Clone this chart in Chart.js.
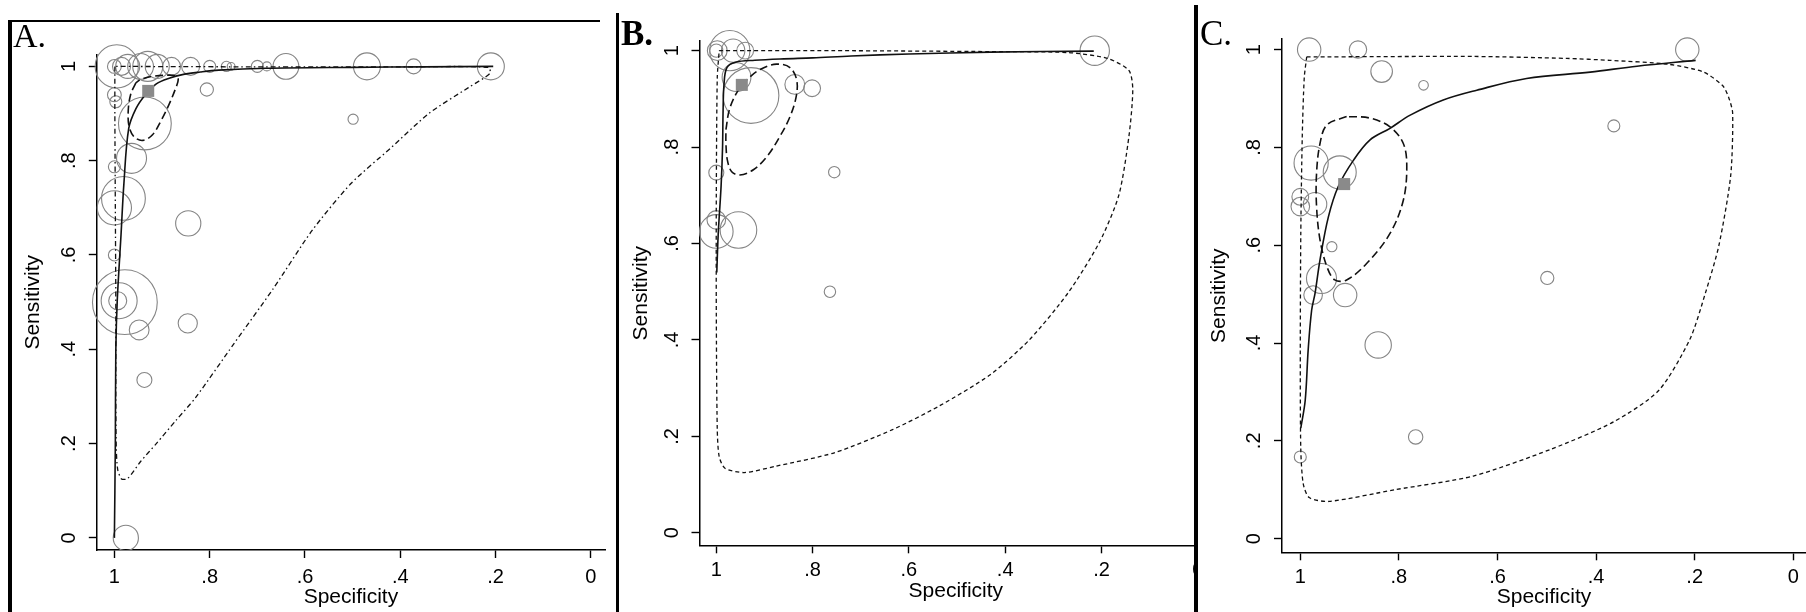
<!DOCTYPE html>
<html>
<head>
<meta charset="utf-8">
<title>SROC plots</title>
<script src="https://cdn.jsdelivr.net/npm/chart.js@4/dist/chart.umd.min.js"></script>
<style>
  html, body { margin: 0; padding: 0; background: #fff; }
  body { position: relative; width: 1806px; height: 612px; overflow: hidden; }
  canvas { position: absolute; top: 0; }
  .rule { position: absolute; background: #000; }
  .tag { position: absolute; font-family: "Liberation Serif", "Times New Roman", serif; line-height: 1; color: #000; white-space: nowrap; }
</style>
</head>
<body>
<canvas id="panelA" width="612" height="612" style="left:0"></canvas>
<canvas id="panelB" width="625" height="612" style="left:600px"></canvas>
<div style="position:absolute;left:1194px;top:0;width:612px;height:612px;background:#fff"></div>
<canvas id="panelC" width="612" height="612" style="left:1194px"></canvas>

<div class="rule" style="left:8px;top:20px;width:592px;height:2px"></div>
<div class="rule" style="left:8px;top:20px;width:4px;height:592px"></div>
<div class="rule" style="left:616px;top:13px;width:3px;height:599px"></div>
<div class="rule" style="left:1194px;top:5px;width:4px;height:607px"></div>

<div class="tag" style="left:13px;top:19px;font-size:34px">A.</div>
<div class="tag" style="left:621px;top:16px;font-size:35px;font-weight:bold">B.</div>
<div class="tag" style="left:1200px;top:16px;font-size:35px">C.</div>

<script>
// ---- axis ticks ----
const TICK_VALUES = [0, 0.2, 0.4, 0.6, 0.8, 1];
const TICK_LABELS = ['0', '.2', '.4', '.6', '.8', '1'];

// ---- A ----
const studySpecA = [1.0, 0.995, 0.985, 0.972, 0.945, 0.93, 0.91, 0.88, 0.84, 0.80, 0.765, 0.755, 0.70, 0.68, 0.64, 0.47, 0.372, 0.21,
                    0.806, 1.0, 0.997, 0.936, 0.964, 1.0, 0.981, 1.0, 0.845, 1.0, 0.993, 0.99, 0.978, 0.948, 0.846, 0.937, 0.976, 0.499];
const studySensA = [1, 1, 1, 1, 1, 1, 1, 1, 1, 1, 1, 1, 1, 1, 1, 1, 1, 1,
                    0.951, 0.94, 0.925, 0.879, 0.805, 0.787, 0.72, 0.70, 0.667, 0.60, 0.503, 0.503, 0.50, 0.441, 0.455, 0.335, 0.0, 0.888];
const studyWeightA = [2.3, 7.2, 3.0, 4.0, 4.3, 5.0, 4.0, 3.0, 3.0, 2.0, 1.7, 1.3, 2.0, 1.5, 4.3, 4.5, 2.5, 4.5,
                      2.2, 2.3, 2.0, 8.8, 5.0, 2.0, 7.3, 5.7, 4.2, 2.0, 3.0, 6.0, 10.8, 3.3, 3.2, 2.5, 4.2, 1.7];
const summarySpecA = 0.929, summarySensA = 0.948;
const srocSpecA = [1.0, 0.998, 0.997, 0.994, 0.986, 0.98, 0.97, 0.955, 0.935, 0.912, 0.885, 0.855, 0.82, 0.781, 0.683, 0.5, 0.35, 0.205];
const srocSensA = [0.0, 0.2, 0.396, 0.503, 0.644, 0.752, 0.868, 0.91, 0.94, 0.963, 0.975, 0.983, 0.988, 0.992, 0.996, 0.998, 0.999, 1.0];
const confSpecA = [0.955, 0.966, 0.971, 0.969, 0.958, 0.94, 0.92, 0.902, 0.885, 0.872, 0.866, 0.872, 0.895, 0.925, 0.945, 0.955];
const confSensA = [0.965, 0.94, 0.905, 0.872, 0.85, 0.843, 0.855, 0.885, 0.92, 0.952, 0.972, 0.98, 0.981, 0.978, 0.972, 0.965];
const predSpecA = [0.999, 0.999, 0.998, 0.997, 0.997, 0.996, 0.993, 0.985, 0.972, 0.945, 0.912, 0.87, 0.83, 0.749, 0.667, 0.585, 0.503, 0.421, 0.339, 0.257, 0.212, 0.215, 0.4, 0.7, 0.999];
const predSensA = [1.0, 0.9, 0.7, 0.5, 0.3, 0.19, 0.145, 0.125, 0.126, 0.162, 0.2, 0.25, 0.297, 0.412, 0.528, 0.652, 0.752, 0.826, 0.901, 0.955, 0.985, 0.998, 0.999, 0.999, 1.0];

// ---- B ----
const studySpecB = [1.0, 0.998, 0.965, 0.94, 0.972, 0.958, 0.928, 0.837, 0.801, 1.0, 0.755, 1.0, 1.0, 0.954, 0.764, 0.214];
const studySensB = [1.0, 1.0, 1.0, 1.0, 1.0, 0.945, 0.907, 0.93, 0.922, 0.747, 0.748, 0.649, 0.625, 0.628, 0.50, 1.0];
const studyWeightB = [2.2, 3.3, 3.9, 2.8, 6.7, 4.8, 9.3, 3.3, 2.8, 2.5, 1.9, 3.1, 5.6, 6.1, 1.9, 4.9];
const summarySpecB = 0.947, summarySensB = 0.929;
const srocSpecB = [0.999, 0.996, 0.99, 0.987, 0.986, 0.984, 0.978, 0.96, 0.92, 0.86, 0.80, 0.72, 0.6, 0.43, 0.216];
const srocSensB = [0.54, 0.62, 0.72, 0.80, 0.87, 0.93, 0.965, 0.976, 0.98, 0.983, 0.985, 0.989, 0.993, 0.997, 0.999];
const confSpecB = [0.98, 0.973, 0.958, 0.937, 0.909, 0.875, 0.847, 0.833, 0.834, 0.847, 0.868, 0.895, 0.923, 0.951, 0.968, 0.977, 0.98, 0.98];
const confSensB = [0.836, 0.877, 0.912, 0.939, 0.961, 0.972, 0.965, 0.939, 0.905, 0.863, 0.822, 0.78, 0.753, 0.742, 0.749, 0.773, 0.808, 0.836];
const predSpecB = [0.994, 0.755, 0.43, 0.27, 0.188, 0.143, 0.135, 0.143, 0.164, 0.204, 0.269, 0.35, 0.431, 0.537, 0.634, 0.755, 0.877, 0.942, 0.982, 0.994, 0.998, 1.0, 1.0, 0.998, 0.994];
const predSensB = [1.0, 1.0, 0.998, 0.996, 0.984, 0.959, 0.919, 0.822, 0.70, 0.603, 0.498, 0.40, 0.328, 0.263, 0.214, 0.166, 0.138, 0.125, 0.134, 0.158, 0.214, 0.457, 0.70, 0.944, 1.0];

// ---- C ----
const studySpecC = [0.982, 0.883, 0.835, 0.75, 0.215, 0.364, 0.978, 0.92, 1.0, 1.0, 0.97, 0.936, 0.957, 0.974, 0.909, 0.842, 0.766, 1.0, 0.499];
const studySensC = [1.0, 1.0, 0.955, 0.927, 1.0, 0.844, 0.768, 0.749, 0.699, 0.679, 0.684, 0.597, 0.532, 0.498, 0.498, 0.396, 0.208, 0.167, 0.533];
const studyWeightC = [3.9, 2.9, 3.6, 1.6, 3.9, 2.0, 5.7, 5.5, 2.8, 3.1, 3.9, 1.7, 5.0, 3.1, 3.9, 4.4, 2.4, 2.0, 2.2];
const summarySpecC = 0.911, summarySensC = 0.725;
const srocSpecC = [0.999, 0.99, 0.984, 0.977, 0.97, 0.96, 0.943, 0.923, 0.892, 0.859, 0.818, 0.777, 0.71, 0.642, 0.541, 0.412, 0.317, 0.198];
const srocSensC = [0.226, 0.283, 0.386, 0.467, 0.502, 0.57, 0.658, 0.72, 0.774, 0.815, 0.839, 0.866, 0.897, 0.917, 0.941, 0.954, 0.966, 0.978];
const confSpecC = [0.906, 0.946, 0.96, 0.967, 0.967, 0.96, 0.946, 0.93, 0.906, 0.865, 0.818, 0.791, 0.784, 0.791, 0.818, 0.859, 0.906];
const confSensC = [0.863, 0.846, 0.808, 0.747, 0.679, 0.611, 0.556, 0.529, 0.529, 0.563, 0.624, 0.692, 0.761, 0.808, 0.842, 0.86, 0.863];
const predSpecC = [0.987, 0.649, 0.459, 0.372, 0.253, 0.182, 0.143, 0.131, 0.123, 0.127, 0.151, 0.178, 0.21, 0.273, 0.364, 0.491, 0.649, 0.808, 0.942, 0.982, 0.994, 0.999, 1.0, 0.999, 0.996, 0.992, 0.987];
const predSensC = [0.985, 0.986, 0.982, 0.978, 0.97, 0.954, 0.926, 0.902, 0.87, 0.742, 0.599, 0.503, 0.407, 0.303, 0.239, 0.183, 0.128, 0.1, 0.076, 0.084, 0.112, 0.183, 0.383, 0.622, 0.822, 0.942, 0.985];

// ---- drawing ----
const INK = '#111';
const STUDY_GREY = '#858585';
const RADIUS_PER_WEIGHT = 3;   // circle radius (px) per unit of study weight
const CANVAS_H = 612;

Chart.defaults.font.family = '"Liberation Sans", Arial, Helvetica, sans-serif';
Chart.defaults.color = '#000';

const toPoints = (xs, ys) => xs.map((x, i) => ({ x, y: ys[i] }));

function curve(xs, ys, dash, width, tension) {
  return {
    data: toPoints(xs, ys),
    showLine: true,
    pointRadius: 0,
    borderColor: INK,
    borderWidth: width,
    borderDash: dash,
    tension: tension,
    fill: false,
    clip: false
  };
}

function axisCommon() {
  return {
    type: 'linear',
    afterBuildTicks: s => { s.ticks = TICK_VALUES.map(v => ({ value: v })); },
    grid: { display: true, drawOnChartArea: false, drawTicks: true, tickLength: 8, tickWidth: 1.4, tickColor: '#000', color: '#000' },
    border: { display: true, color: '#000', width: 1.5 }
  };
}

function drawPanel(id, d, g) {
  new Chart(document.getElementById(id), {
    type: 'scatter',
    data: {
      datasets: [
        { data: toPoints([d.sumSpec], [d.sumSens]), pointStyle: 'rect', pointRadius: 8.5,
          pointBackgroundColor: '#8a8a8a', pointBorderColor: '#8a8a8a', pointBorderWidth: 0, clip: false },
        curve(d.srocSpec, d.srocSens, [], 1.6, 0.35),
        curve(d.confSpec, d.confSens, [8, 4], 1.6, 0.35),
        curve(d.predSpec, d.predSens, d.predDash, 1.3, 0.25),
        { data: toPoints(d.studySpec, d.studySens), pointStyle: 'circle',
          pointRadius: ctx => RADIUS_PER_WEIGHT * d.studyWeight[ctx.dataIndex],
          pointBackgroundColor: 'rgba(0,0,0,0)', pointBorderColor: STUDY_GREY, pointBorderWidth: 1.1, clip: false }
      ]
    },
    options: {
      responsive: false,
      animation: false,
      devicePixelRatio: 1,
      events: [],
      layout: {
        autoPadding: false,
        padding: {
          left: g.left - g.yW,
          top: g.top,
          right: g.canvasW - g.right,
          bottom: CANVAS_H - g.bottom - g.xH
        }
      },
      plugins: { legend: { display: false }, tooltip: { enabled: false } },
      scales: {
        x: Object.assign(axisCommon(), {
          position: 'bottom',
          reverse: true,
          min: g.xMin, max: g.xMax,
          afterFit: s => { s.height = g.xH; },
          ticks: { callback: (v, i) => TICK_LABELS[i], autoSkip: false, minRotation: 0, maxRotation: 0,
                   padding: g.xPad, font: { size: 20 }, color: '#000' },
          title: { display: true, text: 'Specificity', font: { size: 21 }, color: '#000', padding: 0 }
        }),
        y: Object.assign(axisCommon(), {
          position: 'left',
          min: g.yMin, max: g.yMax,
          afterFit: s => { s.width = g.yW; },
          ticks: { callback: (v, i) => TICK_LABELS[i], autoSkip: false, minRotation: 90, maxRotation: 90,
                   crossAlign: 'center', padding: g.yPad, font: { size: 20 }, color: '#000' },
          title: { display: true, text: 'Sensitivity', font: { size: 21 }, color: '#000', padding: 0 }
        })
      }
    }
  });
}

drawPanel('panelA', {
  studySpec: studySpecA, studySens: studySensA, studyWeight: studyWeightA,
  sumSpec: summarySpecA, sumSens: summarySensA,
  srocSpec: srocSpecA, srocSens: srocSensA,
  confSpec: confSpecA, confSens: confSensA,
  predSpec: predSpecA, predSens: predSensA, predDash: [5, 3, 1.5, 3]
}, { canvasW: 612, left: 96.8, right: 605, top: 54.6, bottom: 550,
     xMin: -0.0296, xMax: 1.0369, yMin: -0.0257, yMax: 1.025, yW: 76.4, xH: 59.6, xPad: 7, yPad: 11 });

drawPanel('panelB', {
  studySpec: studySpecB, studySens: studySensB, studyWeight: studyWeightB,
  sumSpec: summarySpecB, sumSens: summarySensB,
  srocSpec: srocSpecB, srocSens: srocSensB,
  confSpec: confSpecB, confSens: confSensB,
  predSpec: predSpecB, predSens: predSensB, predDash: [4, 3]
}, { canvasW: 625, left: 99.5, right: 612.2, top: 41, bottom: 545.3,
     xMin: -0.03, xMax: 1.0349, yMin: -0.0259, yMax: 1.020, yW: 71.1, xH: 58.6, xPad: 5, yPad: 11 });

drawPanel('panelC', {
  studySpec: studySpecC, studySens: studySensC, studyWeight: studyWeightC,
  sumSpec: summarySpecC, sumSens: summarySensC,
  srocSpec: srocSpecC, srocSens: srocSensC,
  confSpec: confSpecC, confSens: confSensC,
  predSpec: predSpecC, predSens: predSensC, predDash: [4, 3]
}, { canvasW: 612, left: 88, right: 612, top: 39, bottom: 552.3,
     xMin: -0.0258, xMax: 1.0371, yMin: -0.028, yMax: 1.0217, yW: 75.1, xH: 57.6, xPad: 5.5, yPad: 11 });
</script>
</body>
</html>
